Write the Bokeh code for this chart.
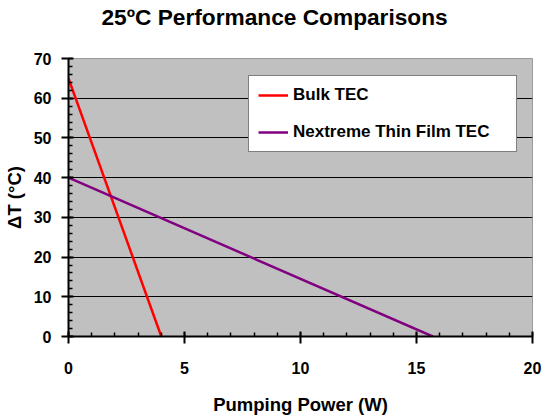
from bokeh.plotting import figure
from bokeh.models import Range1d, FixedTicker, Legend, LegendItem, Title
from bokeh.embed import file_html
from bokeh.resources import INLINE

# Data
bulk_x = [0, 4]
bulk_y = [65, 0]
thin_x = [0, 15.7]
thin_y = [40, 0]

x_major = [0, 5, 10, 15, 20]
x_minor = list(range(0, 21))
y_major = [0, 10, 20, 30, 40, 50, 60, 70]
y_minor = list(range(0, 71, 2))
grid_ticks = [10, 20, 30, 40, 50, 60]

FONT = "Liberation Sans"

p = figure(width=550, height=417, output_backend="svg", toolbar_location=None,
           title=None,
           x_range=Range1d(0, 20), y_range=Range1d(0, 70),
           min_border_left=67, min_border_right=18, min_border_top=58, min_border_bottom=79,
           background_fill_color="#C0C0C0", border_fill_color="white",
           outline_line_color="#9a9a9a", outline_line_width=1)

# spacer between frame and title (innermost above panel)
p.add_layout(Title(text=" ", text_font=FONT, text_font_size="12px", standoff=12), "above")
p.add_layout(Title(text="25ºC Performance Comparisons", align="left", offset=33,
                   standoff=2, text_font=FONT, text_font_size="22.7px",
                   text_font_style="bold", text_color="black"), "above")

r1 = p.line(bulk_x, bulk_y, line_color="#FF0000", line_width=2.5)
r2 = p.line(thin_x, thin_y, line_color="#800080", line_width=2.5)

p.xgrid.visible = False
p.ygrid.ticker = FixedTicker(ticks=grid_ticks)
p.ygrid.grid_line_color = "black"
p.ygrid.grid_line_width = 1

for ax in (p.xaxis[0], p.yaxis[0]):
    ax.axis_line_color = "black"
    ax.axis_line_width = 2
    ax.major_tick_line_color = "black"
    ax.major_tick_line_width = 2
    ax.minor_tick_line_color = "black"
    ax.minor_tick_line_width = 1.5
    ax.major_tick_in = 5
    ax.major_tick_out = 7
    ax.minor_tick_in = 4
    ax.minor_tick_out = 0
    ax.major_label_text_font = FONT
    ax.major_label_text_font_style = "bold"
    ax.major_label_text_font_size = "16px"
    ax.major_label_text_color = "black"
    ax.axis_label_text_font = FONT
    ax.axis_label_text_font_style = "bold"
    ax.axis_label_text_font_size = "18.5px"
    ax.axis_label_text_color = "black"

p.xaxis[0].ticker = FixedTicker(ticks=x_major, minor_ticks=x_minor)
p.yaxis[0].ticker = FixedTicker(ticks=y_major, minor_ticks=y_minor)
p.xaxis[0].axis_label = "Pumping Power (W)"
p.yaxis[0].axis_label = "ΔT (°C)"
p.xaxis[0].major_label_standoff = 18
p.xaxis[0].axis_label_standoff = 17
p.yaxis[0].major_label_standoff = 10
p.yaxis[0].axis_label_standoff = 6

legend = Legend(items=[LegendItem(label="Bulk TEC", renderers=[r1]),
                       LegendItem(label="Nextreme Thin Film TEC", renderers=[r2])],
                location=(180, 184),
                label_text_font=FONT, label_text_font_style="bold",
                label_text_font_size="17px", label_text_color="black",
                glyph_width=30, glyph_height=20, label_height=20, label_width=214,
                label_standoff=5, spacing=17, padding=9, margin=0,
                border_line_color="black", border_line_width=1,
                background_fill_color="white", background_fill_alpha=1)
p.add_layout(legend, "center")

open("out.html", "w").write(file_html(p, INLINE))
